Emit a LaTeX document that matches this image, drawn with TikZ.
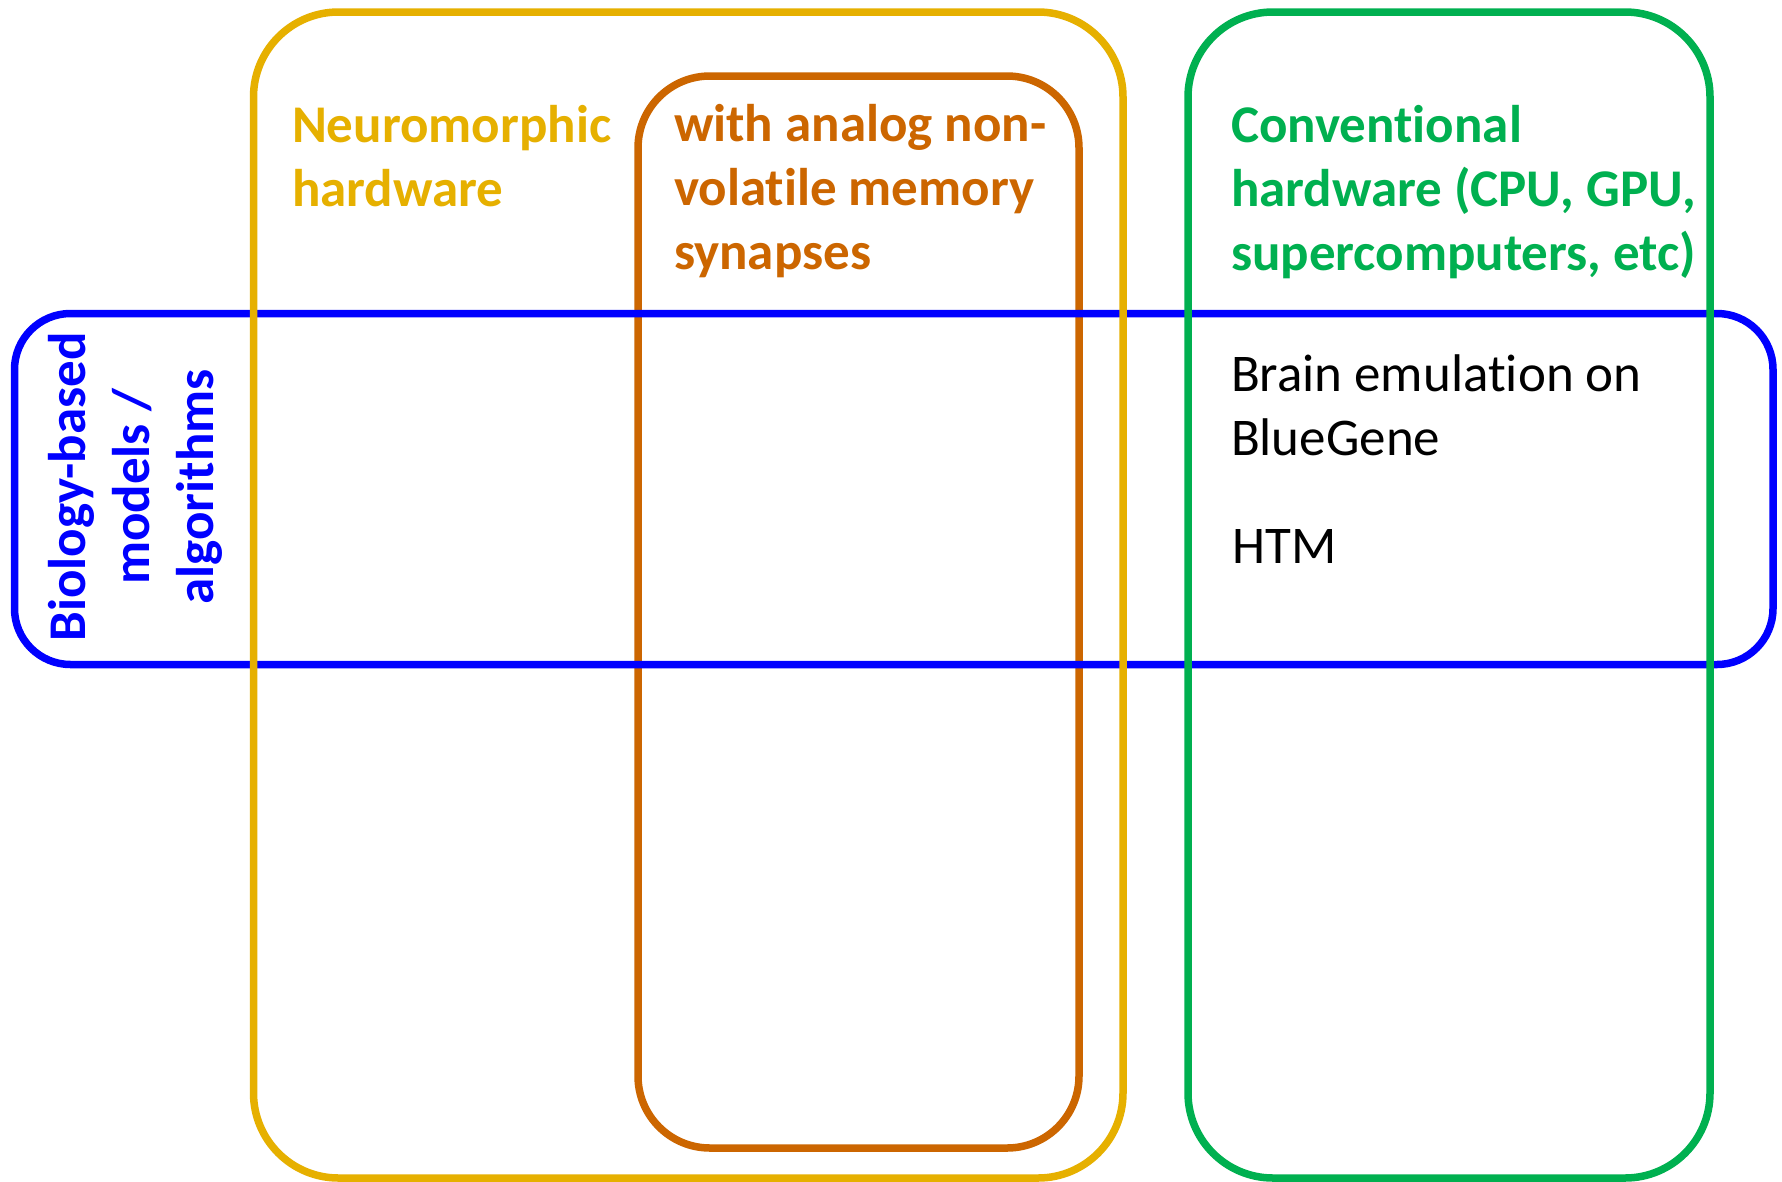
\documentclass[tikz,border=0pt]{standalone}
\usepackage{fontspec}
\setmainfont{Carlito}[Ligatures=NoCommon]
\definecolor{cyellow}{RGB}{230,176,0}
\definecolor{corange}{RGB}{204,102,0}
\definecolor{cgreen}{RGB}{0,176,80}
\definecolor{cblue}{RGB}{0,0,255}
\begin{document}
\begin{tikzpicture}[x=1pt,y=-1pt,
  setbox/.style={line width=7.5pt},
  lbl/.style={inner sep=0pt,outer sep=0pt,anchor=base west,align=left,font=\fontsize{53}{64}\selectfont\bfseries},
  plain/.style={inner sep=0pt,outer sep=0pt,anchor=base west,align=left,font=\fontsize{53}{64}\selectfont}]
\useasboundingbox[fill=white] (0,0) rectangle (1782,1181);
% orange
\draw[setbox,corange,rounded corners=72pt] (638,76) rectangle (1079,1148);
% blue
\draw[setbox,cblue,rounded corners=56pt] (14.5,313.5) rectangle (1773,664.5);
% yellow
\draw[setbox,cyellow,rounded corners=85pt] (253.5,12) rectangle (1123,1178);
% green
\draw[setbox,cgreen,rounded corners=85pt] (1188,12) rectangle (1710,1178);

% anchor base = baseline of the last line
\node[lbl,text=cyellow] (neuro) at (292,206.3) {Neuromorphic\\hardware};
\node[lbl,text=corange] (analog) at (674,269.7) {with analog non-\\volatile memory\\synapses};
\node[lbl,text=cgreen] (conv) at (1231,270.7) {Conventional\\hardware (CPU, GPU,\\supercomputers, etc)};
\node[plain] (brain) at (1231,455.7) {Brain emulation on\\BlueGene};
\node[plain] (htm) at (1232.5,563) {HTM};
\node[lbl,text=cblue,rotate=90,anchor=base,align=center] (bio) at (213.3,487) {Biology-based\\models /\\algorithms};
\end{tikzpicture}
\end{document}
